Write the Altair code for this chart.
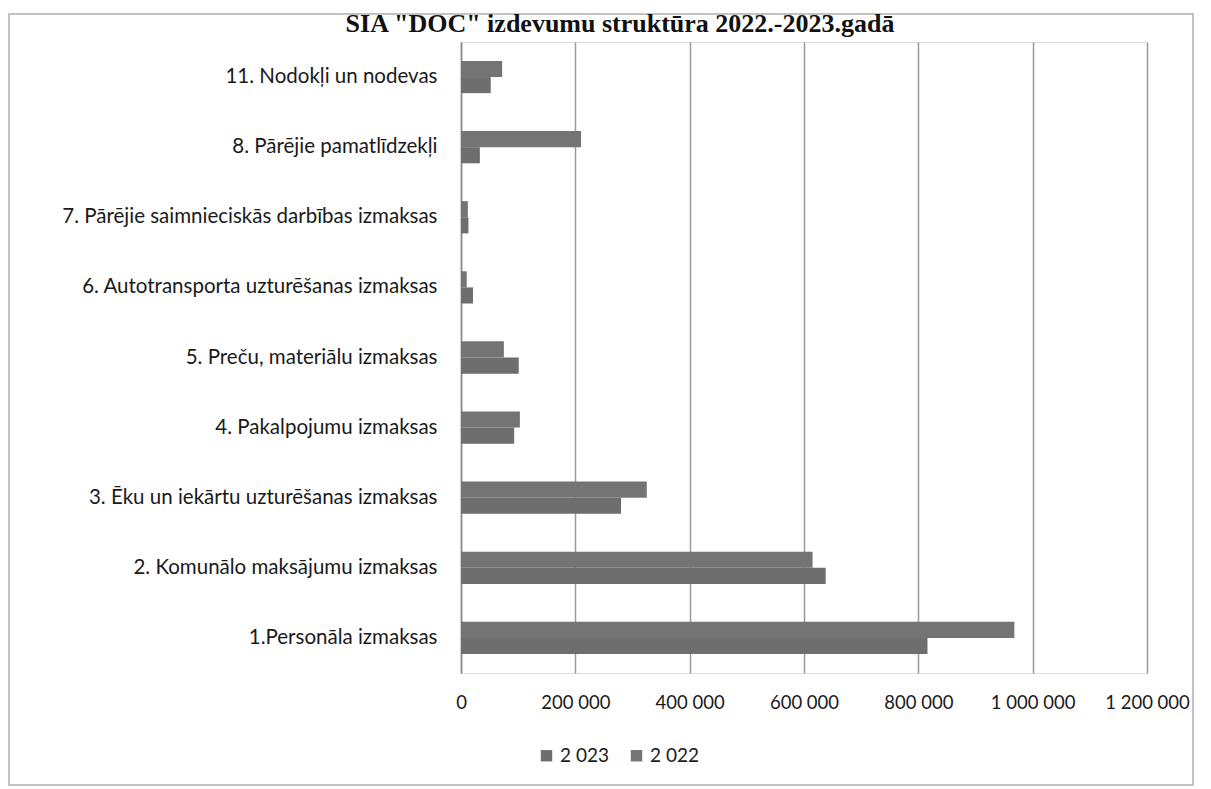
import altair as alt
import pandas as pd

title_text = 'SIA "DOC" izdevumu struktūra 2022.-2023.gadā'
categories = [
    "11. Nodokļi un nodevas",
    "8. Pārējie pamatlīdzekļi",
    "7. Pārējie saimnieciskās darbības izmaksas",
    "6. Autotransporta uzturēšanas izmaksas",
    "5. Preču, materiālu izmaksas",
    "4. Pakalpojumu izmaksas",
    "3. Ēku un iekārtu uzturēšanas izmaksas",
    "2. Komunālo maksājumu izmaksas",
    "1.Personāla izmaksas",
]
series = ["2 023", "2 022"]
values_2023 = [52000, 33000, 13000, 21000, 101000, 93000, 280000, 638000, 816000]
values_2022 = [72000, 210000, 12000, 10000, 75000, 103000, 325000, 615000, 968000]
x_ticks = [0, 200000, 400000, 600000, 800000, 1000000, 1200000]

rows = []
for c, v23, v22 in zip(categories, values_2023, values_2022):
    rows.append({"cat": c, "year": "2 023", "value": v23})
    rows.append({"cat": c, "year": "2 022", "value": v22})
df = pd.DataFrame(rows)

FONT = "Lato"
FS = 20.5

bars = alt.Chart(df).mark_bar(opacity=1).encode(
    y=alt.Y("cat:N", sort=categories, title=None,
            scale=alt.Scale(paddingInner=0.54, paddingOuter=0.27),
            axis=alt.Axis(labelFont=FONT, labelFontSize=FS, labelColor="#1a1a1a",
                          labelPadding=24, ticks=False, domainColor="#8a8a8a",
                          domainWidth=1.5, labelLimit=500)),
    yOffset=alt.YOffset("year:N", sort=["2 022", "2 023"]),
    x=alt.X("value:Q", title=None,
            scale=alt.Scale(domain=[0, 1200000], nice=False),
            axis=alt.Axis(values=x_ticks, format=",d",
                          labelExpr="replace(datum.label, /,/g, ' ')",
                          labelFont=FONT, labelFontSize=18.5, labelColor="#1a1a1a",
                          labelPadding=20, ticks=False, domain=False, labelOverlap=False,
                          labelFlush=False, labelBound=False,
                          grid=True, gridColor="#9a9a9a", gridWidth=1.5)),
    color=alt.Color("year:N", sort=series,
                    scale=alt.Scale(domain=series, range=["#6e6e6e", "#747474"]),
                    legend=alt.Legend(title=None, orient="none", direction="horizontal",
                                      legendX=76, legendY=704, symbolType="square",
                                      symbolSize=130, labelFont=FONT, labelFontSize=19,
                                      labelColor="#1a1a1a", columnPadding=18,
                                      symbolStrokeWidth=0)),
)

frame = alt.Chart(pd.DataFrame({"a": [0]})).mark_rect(
    fill=None, stroke="#b0b0b0", strokeWidth=1.5, clip=False
).encode(
    x=alt.value(-452), x2=alt.value(732),
    y=alt.value(-28), y2=alt.value(743),
)

title = alt.Chart(pd.DataFrame({"t": [title_text]})).mark_text(
    font="Liberation Serif", fontSize=26, fontWeight="bold", color="#111111",
    align="center", baseline="alphabetic", clip=False
).encode(
    text="t:N", x=alt.value(159), y=alt.value(-10),
)

chart = alt.layer(frame, title, bars).properties(
    width=686, height=631,
    autosize=alt.AutoSizeParams(type="none"),
    padding={"left": 453, "top": 34, "right": 48, "bottom": 114},
).configure_view(stroke=None).configure(background="white")

chart.save("out.html", embed_options={"renderer": "svg", "actions": False})
